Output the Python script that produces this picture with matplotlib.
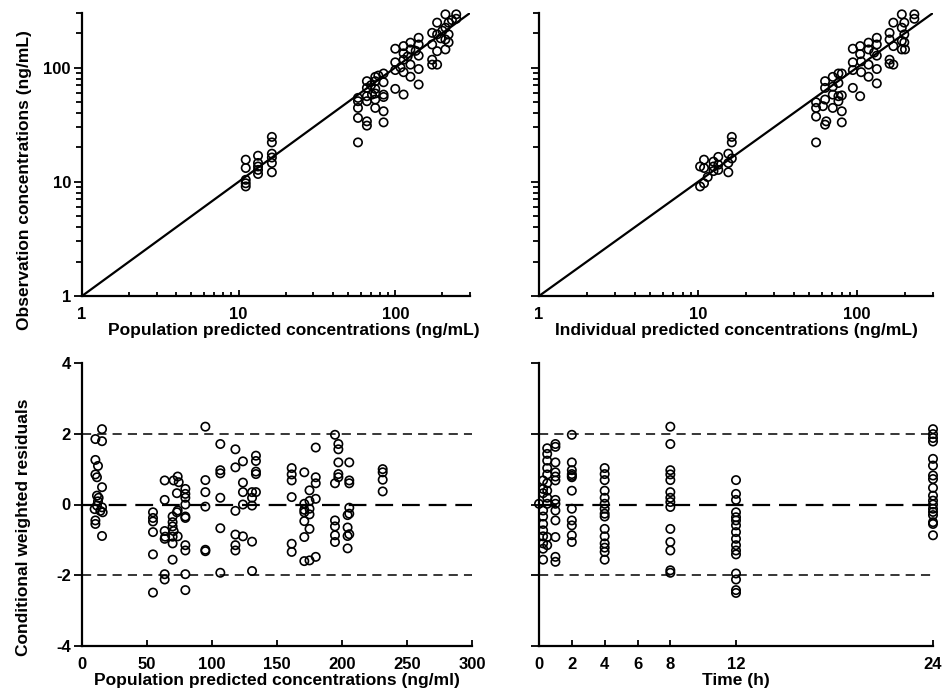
import matplotlib
matplotlib.use('Agg')
import matplotlib.pyplot as plt
from matplotlib.ticker import FixedLocator, FixedFormatter, NullFormatter
import numpy as np


plt.rcParams['font.family'] = ['Liberation Sans', 'DejaVu Sans']
plt.rcParams['font.weight'] = 'bold'

# population predictions vs observations (ng/mL)
pred = [11.1, 11.1, 11.1, 11.1, 11.1, 13.3, 13.3, 13.3, 13.3, 13.3,
	16.3, 16.3, 16.3, 16.3, 16.3, 16.3,
	57.8, 57.8, 57.8, 57.8, 57.8, 65.9, 65.9, 65.9, 65.9, 65.9, 65.9,
	74.5, 74.5, 74.5, 74.5, 74.5, 74.5, 84.2, 84.2, 84.2, 84.2, 84.2, 84.2,
	70.0, 78.0, 71.0,
	100, 100, 100, 100, 113, 113, 113, 113, 113, 125, 125, 125, 125,
	141, 141, 141, 141, 141, 108, 120, 135,
	172, 172, 172, 172, 185, 185, 185, 185, 209, 209, 209, 209,
	219, 219, 219, 245, 245, 195, 200, 230]
obs_pred = [15.6, 13.2, 10.4, 9.7, 9.1, 16.9, 14.6, 13.6, 12.7, 11.7,
	24.7, 22.1, 17.6, 16.3, 14.6, 12.1,
	22.1, 36.2, 44.3, 50.7, 54.2, 75.9, 66.3, 56.1, 50.7, 33.8, 31.0,
	82.8, 75.9, 65.0, 59.2, 52.4, 44.3, 88.6, 74.3, 57.9, 55.2, 41.4, 33.1,
	70.0, 85.0, 58.0,
	146, 111, 95, 65, 154, 133, 117, 91, 58, 165, 144, 106, 83,
	182, 159, 127, 97, 71, 100, 125, 140,
	201, 159, 117, 106, 247, 195, 139, 106, 292, 223, 176, 144,
	247, 195, 166, 292, 267, 180, 210, 260]

# individual predictions vs observations (ng/mL)
ipred = [10.3, 10.3, 10.9, 10.9, 10.9, 11.5, 12.5, 12.5, 12.5,
	13.4, 13.4, 13.4, 15.5, 15.5, 15.5, 16.3, 16.3, 16.3,
	55.2, 55.2, 55.2, 55.2, 62.9, 62.9, 62.9, 62.9, 64.0, 61.0,
	70.3, 70.3, 70.3, 70.3, 76.3, 76.3, 76.3, 76.3, 80.1, 80.1, 80.1, 80.1,
	94, 94, 94, 94, 104.5, 104.5, 104.5, 106, 106,
	118, 118, 118, 118, 133, 133, 133, 133, 133, 128,
	160, 160, 160, 160, 169, 169, 169, 191, 191, 191, 191,
	198, 198, 198, 200, 229, 229]
obs_ipred = [13.6, 9.1, 15.6, 13.2, 9.7, 11.0, 15.0, 13.6, 12.4,
	16.5, 14.1, 12.7, 17.6, 14.6, 12.1, 24.7, 22.1, 16.0,
	22.1, 37.2, 44.3, 49.6, 31.6, 52.4, 66.3, 75.9, 33.8, 45.9,
	82.8, 67.9, 57.9, 44.3, 88.6, 73.2, 56.1, 50.7, 88.6, 57.0, 41.4, 33.1,
	146, 111, 95, 66.3, 154, 131, 56.1, 113, 91,
	165, 144, 106, 83, 182, 159, 127, 97, 72.6, 135,
	201, 176, 117, 108, 247, 154, 106, 292, 223, 171, 144,
	195, 247, 166, 144, 292, 267]

# CWRES vs population predictions (ng/ml)
cw_pred = [15.4, 10.3, 15.4, 10.3, 12.3, 10.3, 11.5, 15.4, 11.5, 12.8,
	12.3, 11.5, 15.4, 9.7, 14.1, 15.9, 10.3, 10.3, 15.4,
	54.6, 54.6, 54.6, 54.6, 54.6, 54.6, 63.6, 63.6, 63.6, 63.6, 63.6, 63.6,
	70.5, 73.6, 74.4, 73.0, 73.0, 69.7, 69.7, 69.7, 70.5, 73.6, 69.7, 64.0,
	69.7, 69.7, 79.5, 79.5, 79.5, 79.5, 79.5, 79.5, 79.5, 79.5, 79.5, 79.5, 73.6,
	94.9, 94.9, 94.9, 94.9, 94.9, 94.9,
	106.4, 106.4, 106.4, 106.4, 106.4, 106.4,
	118, 118, 118, 118, 118, 118, 123.8, 123.8, 123.8, 123.8, 123.8,
	130.8, 130.8, 130.8, 130.8, 130.8, 133.8, 133.8, 133.8, 133.8, 133.8,
	161.3, 161.3, 161.3, 161.3, 161.3, 161.3,
	171, 171, 171, 171, 171, 171, 171, 175, 175, 175, 175, 175, 175,
	179.8, 179.8, 179.8, 179.8, 179.8,
	194.6, 194.6, 194.6, 194.6, 194.6, 194.6, 197.2, 197.2, 197.2, 197.2, 197.2,
	205.6, 205.6, 205.6, 205.6, 205.6, 204.3, 204.3, 204.3, 205.6, 204.3,
	231.3, 231.3, 231.3, 231.3]
cw_res = [2.13, 1.85, 1.79, 1.26, 1.09, 0.85, 0.77, 0.49, 0.25, 0.19,
	0.09, -0.03, -0.08, -0.13, -0.18, -0.22, -0.45, -0.55, -0.89,
	-0.22, -0.38, -0.48, -0.78, -1.41, -2.49, 0.68, 0.13, -0.75, -0.97, -1.97, -2.12,
	0.68, 0.79, 0.63, 0.32, -0.22, -0.34, -0.50, -0.62, -0.75, -0.90, -0.91, -0.91,
	-1.10, -1.56, 0.44, 0.30, 0.19, 0.0, -0.34, -0.38, -1.15, -1.30, -1.97, -2.42, -0.17,
	2.20, 0.69, 0.35, -0.06, -1.28, -1.32,
	1.71, 0.97, 0.88, 0.19, -0.67, -1.93,
	1.56, 1.05, -0.18, -0.85, -1.15, -1.30, 1.22, 0.62, 0.35, 0.0, -0.90,
	-1.05, -1.88, 0.35, 0.19, -0.03, 1.38, 1.23, 0.93, 0.86, 0.35,
	1.03, 0.85, 0.68, 0.21, -1.11, -1.34,
	0.91, 0.02, -0.15, -0.22, -0.47, -0.92, -1.60, 0.40, 0.10, -0.12, -0.28, -0.69, -1.58,
	1.61, 0.77, 0.60, 0.16, -1.48,
	1.97, 0.60, -0.45, -0.62, -0.87, -1.06, 1.71, 1.56, 1.19, 0.86, 0.77,
	1.19, 0.68, 0.60, -0.09, -0.26, -0.30, -0.65, -0.89, -0.84, -1.24,
	1.00, 0.91, 0.70, 0.37]

# CWRES vs time (h)
time = [0] + [0.25] * 11 + [0.5] * 11 + [1] * 13 + [2] * 12 + [4] * 15 \
	+ [8] * 14 + [12] * 16 + [24] * 18
cw_time = [0.02,
	0.68, 0.44, 0.32, -0.17, -0.34, -0.55, -0.73, -0.90, -1.10, -1.25, -1.56,
	1.59, 1.43, 1.24, 1.03, 0.85, 0.60, 0.39, 0.19, 0.02, -0.92, -1.15,
	1.71, 1.63, 1.19, 0.91, 0.79, 0.68, 0.13, 0.02, -0.17, -0.45, -0.92, -1.48, -1.62,
	1.97, 1.19, 0.97, 0.86, 0.81, 0.77, 0.39, -0.12, -0.45, -0.59, -0.87, -1.06,
	1.03, 0.86, 0.69, 0.39, 0.19, 0.02, -0.12, -0.26, -0.34, -0.69, -0.90, -1.10, -1.22, -1.34, -1.56,
	2.20, 1.71, 0.97, 0.85, 0.69, 0.35, 0.19, 0.07, -0.07, -0.69, -1.06, -1.30, -1.86, -1.93,
	0.69, 0.30, 0.13, -0.22, -0.36, -0.45, -0.59, -0.78, -0.97, -1.15, -1.30, -1.41, -1.95, -2.12, -2.42, -2.50,
	2.13, 1.99, 1.88, 1.78, 1.29, 1.10, 0.82, 0.72, 0.47, 0.25, 0.11, 0.0, -0.12, -0.21, -0.30, -0.50, -0.55, -0.87]

log_ticks = [1, 10, 100]
cw_ticks = [-4, -2, 0, 2, 4]
pred_ticks = [0, 50, 100, 150, 200, 250, 300]
time_ticks = [0, 2, 4, 6, 8, 12, 24]

W, H = 944, 700


def new_axes(fig, left, top, width, height):
	ax = fig.add_axes([left / W, 1 - (top + height) / H, width / W, height / H])
	for side in ['top', 'right']:
		ax.spines[side].set_visible(False)
	for side in ['left', 'bottom']:
		ax.spines[side].set_linewidth(1.6)
	ax.tick_params(axis='x', which='both', direction='in', width=1.3, labelsize=12, pad=8)
	ax.tick_params(axis='x', which='major', length=4)
	ax.tick_params(axis='x', which='minor', length=3)
	ax.tick_params(axis='y', which='both', direction='out', width=1.3, labelsize=12, pad=2)
	ax.tick_params(axis='y', which='major', length=6)
	ax.tick_params(axis='y', which='minor', length=4)
	return ax


def scatter(ax, x, y):
	ax.scatter(x, y, s=36, facecolors='none', edgecolors='black', linewidths=1.2, zorder=3, clip_on=False)


def log_panel(ax, x, y, xlabel, ylabel, show_y, label_x=0.5):
	ax.set_xscale('log')
	ax.set_yscale('log')
	ax.set_xlim(1, 300)
	ax.set_ylim(1, 300)
	ax.plot([1, 300], [1, 300], color='black', lw=1.6, zorder=2)
	scatter(ax, x, y)
	ax.xaxis.set_major_locator(FixedLocator(log_ticks))
	ax.xaxis.set_major_formatter(FixedFormatter([str(t) for t in log_ticks]))
	ax.xaxis.set_minor_formatter(NullFormatter())
	ax.yaxis.set_major_locator(FixedLocator(log_ticks))
	ax.yaxis.set_minor_formatter(NullFormatter())
	if show_y:
		ax.yaxis.set_major_formatter(FixedFormatter([str(t) for t in log_ticks]))
	else:
		ax.yaxis.set_major_formatter(NullFormatter())
	ax.set_xlabel(xlabel, fontsize=12.5, fontweight='bold', labelpad=1, x=label_x)
	if ylabel:
		ax.set_ylabel(ylabel, fontsize=12.5, fontweight='bold')
		ax.yaxis.set_label_coords(-0.13, 0.41)


def resid_panel(ax, x, y, xmax, xticks, xlabel, ylabel):
	ax.set_xlim(0, xmax)
	ax.set_ylim(-4, 4)
	ax.axhline(0, color='black', lw=1.6, dashes=(8, 4), zorder=2)
	ax.axhline(2, color='black', lw=1.1, dashes=(6, 4), zorder=2)
	ax.axhline(-2, color='black', lw=1.1, dashes=(6, 4), zorder=2)
	scatter(ax, x, y)
	ax.set_xticks(xticks)
	ax.set_xticklabels([str(t) for t in xticks])
	ax.set_yticks(cw_ticks)
	if ylabel:
		ax.set_yticklabels([str(t) for t in cw_ticks])
		ax.set_ylabel(ylabel, fontsize=12.5, fontweight='bold')
		ax.yaxis.set_label_coords(-0.13, 0.42)
	else:
		ax.set_yticklabels([])
	ax.set_xlabel(xlabel, fontsize=12.5, fontweight='bold', labelpad=1)


fig = plt.figure(figsize=(9.44, 7.0), dpi=100)

ax1 = new_axes(fig, 82, 13, 388, 283)
log_panel(ax1, pred, obs_pred, 'Population predicted concentrations (ng/mL)',
	'Observation concentrations (ng/mL)', True, label_x=0.545)

ax2 = new_axes(fig, 539, 13, 394, 283)
log_panel(ax2, ipred, obs_ipred, 'Individual predicted concentrations (ng/mL)', None, False)

ax3 = new_axes(fig, 82, 363, 390, 283)
resid_panel(ax3, cw_pred, cw_res, 300, pred_ticks,
	'Population predicted concentrations (ng/ml)', 'Conditional weighted residuals')

ax4 = new_axes(fig, 539, 363, 394, 283)
resid_panel(ax4, time, cw_time, 24, time_ticks, 'Time (h)', None)

fig.savefig('out.png', dpi=100)
